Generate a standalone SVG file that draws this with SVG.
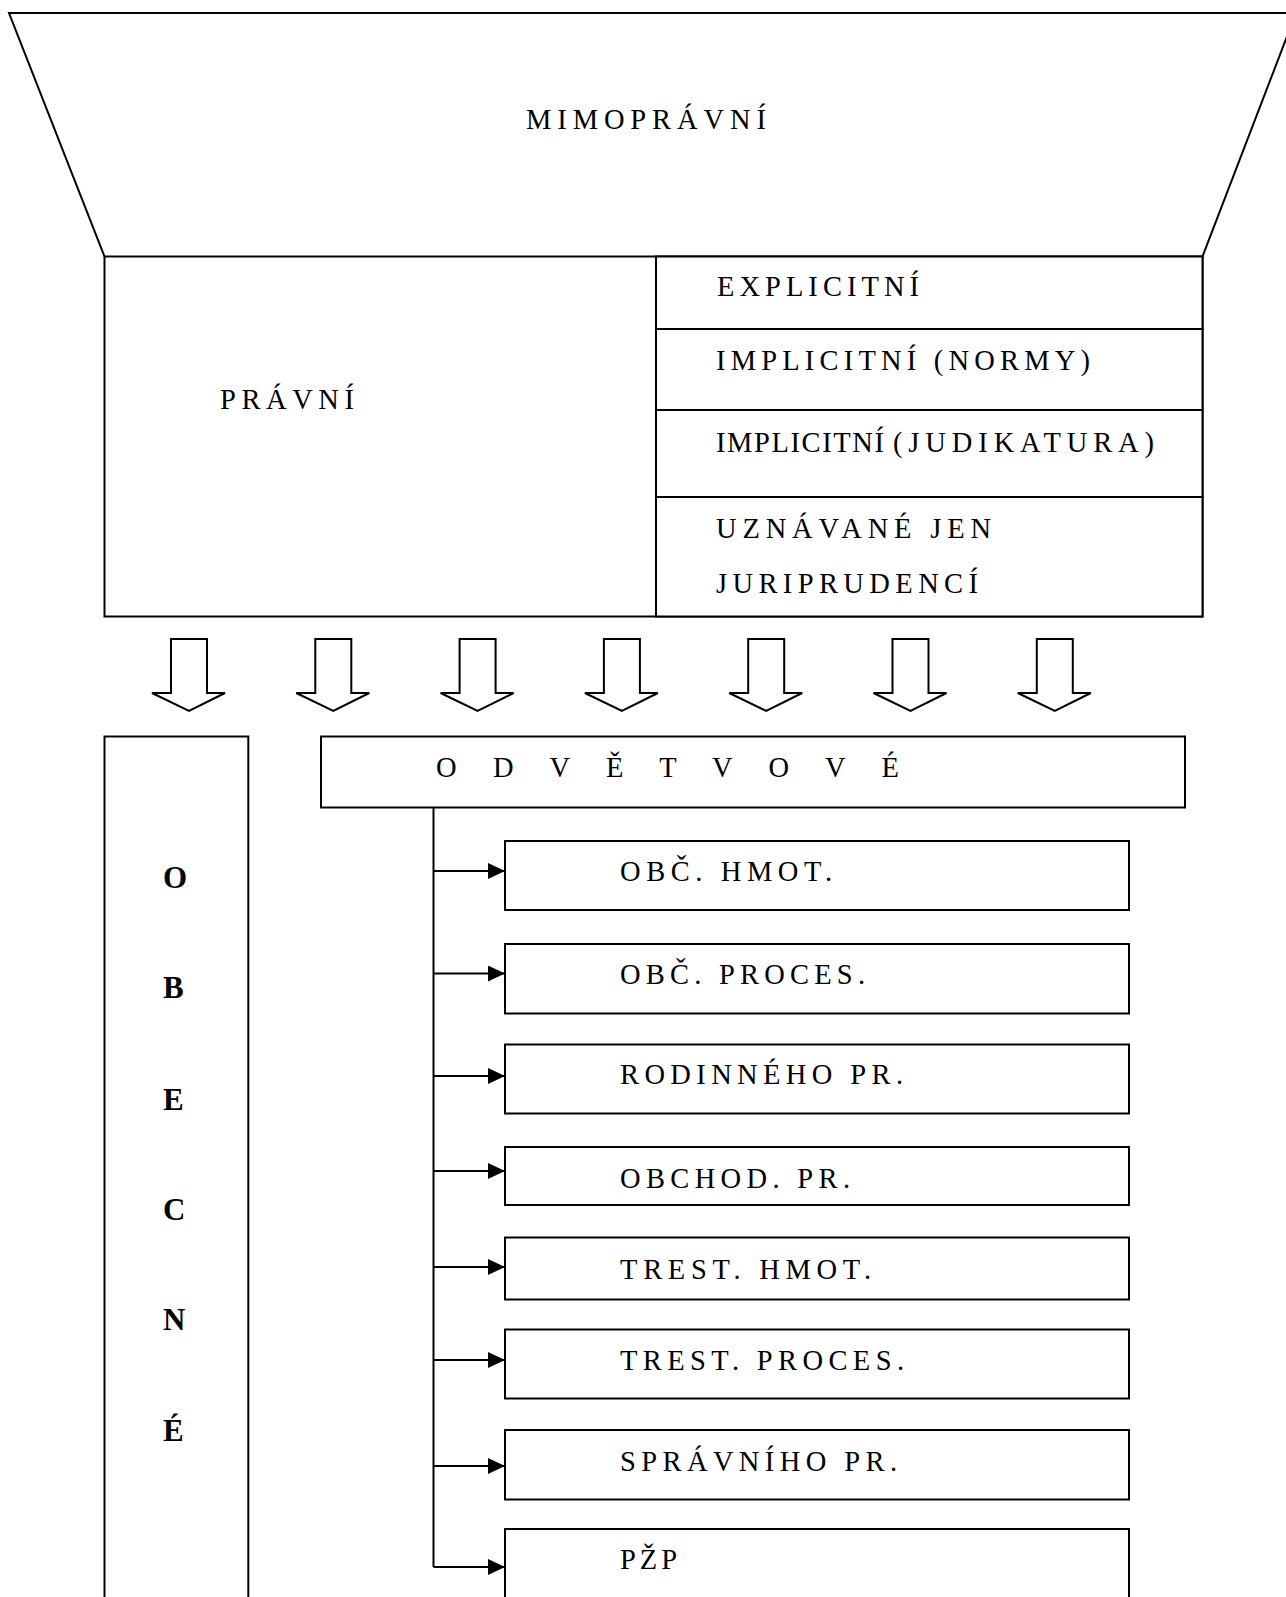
<svg xmlns="http://www.w3.org/2000/svg" width="1286" height="1597" viewBox="0 0 1286 1597">
<defs>
<style>
.bx{fill:#fff;stroke:#000;stroke-width:2}
.ln{fill:none;stroke:#000;stroke-width:2}
.t{font-family:"Liberation Serif","Times New Roman",serif;font-size:28.5px;fill:#000}
.b{font-family:"Liberation Serif","Times New Roman",serif;font-size:31px;font-weight:bold;fill:#000}
.da{fill:#fff;stroke:#000;stroke-width:2;stroke-linejoin:miter}
</style>
<marker id="ah" markerWidth="17" markerHeight="16" refX="17" refY="8" orient="auto" markerUnits="userSpaceOnUse">
<path d="M0,0 L17,8 L0,16 Z" fill="#000"/>
</marker>
<path id="darrow" d="M-18,0 L18,0 L18,54 L36,54 L0,72 L-37,54 L-18,54 Z"/>
</defs>
<rect width="1286" height="1597" fill="#fff"/>

<g id="mimopravni">
<path class="ln" d="M1296,13 L9,13 L104.5,256.5 M1202.5,256.5 L1296,13"/>
<text class="t" x="526" y="129" textLength="240" lengthAdjust="spacing">MIMOPRÁVNÍ</text>
</g>

<g id="pravni">
<rect class="bx" x="104.5" y="256.5" width="1098" height="360"/>
<text class="t" x="220" y="408.5" textLength="134" lengthAdjust="spacing">PRÁVNÍ</text>
</g>

<g id="explicitni">
<rect class="bx" x="656" y="256.5" width="546.5" height="72.5"/>
<text class="t" x="717" y="296.3" textLength="202" lengthAdjust="spacing">EXPLICITNÍ</text>
</g>
<g id="implicitni-normy">
<rect class="bx" x="656" y="329" width="546.5" height="81"/>
<text class="t" x="716" y="369.5" textLength="374" lengthAdjust="spacing">IMPLICITNÍ (NORMY)</text>
</g>
<g id="implicitni-judikatura">
<rect class="bx" x="656" y="410" width="546.5" height="87"/>
<text class="t" y="452"><tspan x="716" textLength="168" lengthAdjust="spacing">IMPLICITNÍ</tspan><tspan x="893" textLength="261" lengthAdjust="spacing">(JUDIKATURA)</tspan></text>
</g>
<g id="uznavane">
<rect class="bx" x="656" y="497" width="546.5" height="119.5"/>
<text class="t" x="716" y="537.5" textLength="275" lengthAdjust="spacing">UZNÁVANÉ JEN</text>
<text class="t" x="716" y="592.5" textLength="262" lengthAdjust="spacing">JURIPRUDENCÍ</text>
</g>

<g id="flow-arrows">
<use href="#darrow" class="da" x="189" y="639"/>
<use href="#darrow" class="da" x="333.3" y="639"/>
<use href="#darrow" class="da" x="477.6" y="639"/>
<use href="#darrow" class="da" x="621.9" y="639"/>
<use href="#darrow" class="da" x="766.2" y="639"/>
<use href="#darrow" class="da" x="910.5" y="639"/>
<use href="#darrow" class="da" x="1054.8" y="639"/>
</g>

<g id="obecne">
<path class="ln" d="M104.5,1600 L104.5,736.5 L248.3,736.5 L248.3,1600"/>
<text class="b" x="163" y="888">O</text>
<text class="b" x="163" y="998">B</text>
<text class="b" x="163" y="1110">E</text>
<text class="b" x="163" y="1220">C</text>
<text class="b" x="163" y="1330">N</text>
<text class="b" x="163" y="1441">É</text>
</g>

<g id="odvetvove">
<rect class="bx" x="321" y="736.5" width="864" height="71"/>
<text class="t" x="436" y="777" textLength="463" lengthAdjust="spacing">O D V Ě T V O V É</text>
</g>

<g id="connectors">
<path class="ln" d="M433.5,807.5 L433.5,1567"/>
<line class="ln" x1="433.5" y1="871" x2="505" y2="871" marker-end="url(#ah)"/>
<line class="ln" x1="433.5" y1="973.5" x2="505" y2="973.5" marker-end="url(#ah)"/>
<line class="ln" x1="433.5" y1="1076" x2="505" y2="1076" marker-end="url(#ah)"/>
<line class="ln" x1="433.5" y1="1171" x2="505" y2="1171" marker-end="url(#ah)"/>
<line class="ln" x1="433.5" y1="1267" x2="505" y2="1267" marker-end="url(#ah)"/>
<line class="ln" x1="433.5" y1="1360" x2="505" y2="1360" marker-end="url(#ah)"/>
<line class="ln" x1="433.5" y1="1466" x2="505" y2="1466" marker-end="url(#ah)"/>
<line class="ln" x1="433.5" y1="1567" x2="505" y2="1567" marker-end="url(#ah)"/>
</g>

<g id="obc-hmot">
<rect class="bx" x="505" y="841" width="624" height="69"/>
<text class="t" x="620" y="881" textLength="212" lengthAdjust="spacing">OBČ. HMOT.</text>
</g>
<g id="obc-proces">
<rect class="bx" x="505" y="944" width="624" height="69.5"/>
<text class="t" x="620" y="984" textLength="245" lengthAdjust="spacing">OBČ. PROCES.</text>
</g>
<g id="rodinneho">
<rect class="bx" x="505" y="1044.5" width="624" height="69"/>
<text class="t" x="620" y="1084" textLength="283" lengthAdjust="spacing">RODINNÉHO PR.</text>
</g>
<g id="obchod">
<rect class="bx" x="505" y="1147" width="624" height="58"/>
<text class="t" x="620" y="1188" textLength="230" lengthAdjust="spacing">OBCHOD. PR.</text>
</g>
<g id="trest-hmot">
<rect class="bx" x="505" y="1237.5" width="624" height="62"/>
<text class="t" x="620" y="1278.5" textLength="251" lengthAdjust="spacing">TREST. HMOT.</text>
</g>
<g id="trest-proces">
<rect class="bx" x="505" y="1329.5" width="624" height="69"/>
<text class="t" x="620" y="1370" textLength="284" lengthAdjust="spacing">TREST. PROCES.</text>
</g>
<g id="spravniho">
<rect class="bx" x="505" y="1430" width="624" height="69.5"/>
<text class="t" x="620" y="1471" textLength="277" lengthAdjust="spacing">SPRÁVNÍHO PR.</text>
</g>
<g id="pzp">
<path class="ln" d="M505,1600 L505,1529 L1129,1529 L1129,1600"/>
<text class="t" x="620" y="1569" textLength="57" lengthAdjust="spacing">PŽP</text>
</g>
</svg>
